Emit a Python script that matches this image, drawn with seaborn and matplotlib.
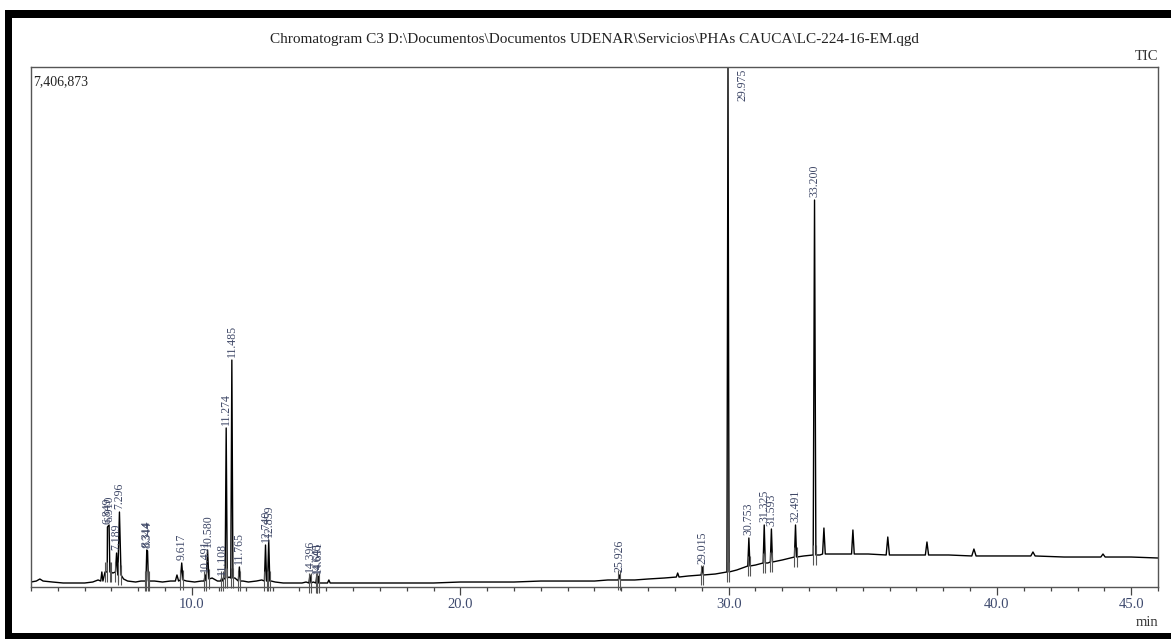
import matplotlib
matplotlib.use("Agg")
import matplotlib.pyplot as plt
from matplotlib.patches import Rectangle
from matplotlib.ticker import FixedLocator, MultipleLocator, FixedFormatter
import pandas as pd
import seaborn as sns

# ---------------- data ----------------
TITLE = "Chromatogram C3 D:\\Documentos\\Documentos UDENAR\\Servicios\\PHAs CAUCA\\LC-224-16-EM.qgd"
Y_MAX = 7406873
Y_MAX_LABEL = "7,406,873"
X_RANGE = (4.0, 46.0)
major_ticks = [10.0, 20.0, 30.0, 40.0, 45.0]
tick_labels = ["10.0", "20.0", "30.0", "40.0", "45.0"]

# peaks: retention time (min), apex signal, foot signal, half width (min), label
peak_time = [6.640, 6.849, 6.910, 7.189, 7.296, 8.314, 8.344, 9.440, 9.617,
             10.491, 10.580, 11.108, 11.274, 11.485, 11.765, 12.740, 12.859,
             14.396, 14.645, 14.691, 15.100, 25.926, 28.100, 29.015, 29.975,
             30.753, 31.325, 31.593, 32.491, 33.200, 33.550, 34.630, 35.930,
             37.390, 39.140, 41.340, 43.950]
peak_top = [214000, 855000, 883000, 484000, 1068000, 527000, 513000, 171000, 342000,
            171000, 527000, 128000, 2265000, 3233000, 285000, 598000, 669000,
            171000, 142000, 157000, 100000, 171000, 199000, 285000, 7406873,
            698000, 883000, 826000, 883000, 5512000, 840000, 812000, 712000,
            641000, 541000, 499000, 470000]
peak_base = [85000, 214000, 214000, 214000, 171000, 85000, 85000, 85000, 100000,
             85000, 114000, 85000, 128000, 128000, 85000, 85000, 85000,
             57000, 57000, 57000, 57000, 100000, 142000, 171000, 214000,
             299000, 342000, 356000, 427000, 456000, 470000, 470000, 456000,
             456000, 442000, 442000, 427000]
peak_halfwidth = [0.04, 0.09, 0.07, 0.04, 0.06, 0.06, 0.06, 0.06, 0.05,
                  0.04, 0.05, 0.04, 0.04, 0.04, 0.04, 0.04, 0.04,
                  0.04, 0.03, 0.03, 0.05, 0.04, 0.05, 0.04, 0.04,
                  0.04, 0.04, 0.04, 0.04, 0.05, 0.05, 0.05, 0.06,
                  0.06, 0.08, 0.08, 0.08]
peak_label = ["", "6.849", "6.910", "7.189", "7.296", "8.314", "8.344", "", "9.617",
              "10.491", "10.580", "11.108", "11.274", "11.485", "11.765", "12.740", "12.859",
              "14.396", "14.645", "14.691", "", "25.926", "", "29.015", "29.975",
              "30.753", "31.325", "31.593", "32.491", "33.200", "", "", "",
              "", "", "", ""]

# baseline between peaks: time (min), signal
baseline_time = [4.00, 4.20, 4.33, 4.45, 4.80, 5.20, 5.60, 6.00, 6.30, 6.50,
                 7.05, 7.45, 7.60, 7.90, 8.10, 8.60, 8.90, 9.20, 9.80, 10.10,
                 10.35, 10.75, 10.95, 11.19, 11.38, 11.60, 11.90, 12.10, 12.40, 12.60,
                 12.95, 13.10, 13.40, 13.80, 14.10, 14.25, 14.52, 14.80, 15.40, 16.00,
                 17.00, 18.00, 19.00, 20.00, 21.00, 22.00, 23.00, 24.00, 25.00, 25.50,
                 26.50, 27.00, 27.60, 28.50, 29.50, 30.30, 31.00, 31.46, 32.00, 32.80,
                 33.40, 34.00, 35.20, 36.60, 38.20, 40.00, 42.50, 45.00, 46.00]
baseline_signal = [71000, 85000, 114000, 85000, 71000, 57000, 57000, 57000, 71000, 100000,
                   199000, 114000, 85000, 71000, 85000, 85000, 71000, 85000, 85000, 71000,
                   85000, 128000, 85000, 114000, 142000, 128000, 85000, 71000, 85000, 100000,
                   85000, 71000, 57000, 57000, 57000, 71000, 71000, 57000, 57000, 57000,
                   57000, 57000, 57000, 71000, 71000, 71000, 85000, 85000, 85000, 100000,
                   100000, 114000, 128000, 157000, 185000, 242000, 313000, 342000, 385000, 442000,
                   456000, 470000, 470000, 456000, 456000, 442000, 427000, 427000, 413000]

# ---------------- build trace vertices from the read values ----------------
rows = [(t, s) for t, s in zip(baseline_time, baseline_signal)]
for t, top, base, hw in zip(peak_time, peak_top, peak_base, peak_halfwidth):
    rows += [(t - hw, base), (t, top), (t + hw, base)]
trace = pd.DataFrame(rows, columns=["time", "signal"]).sort_values("time")

# ---------------- figure ----------------
sns.set_theme(style="white")
plt.rcParams["font.family"] = ["Liberation Serif", "DejaVu Serif"]

W, H = 1171, 639
fig = plt.figure(figsize=(W / 100, H / 100), dpi=100)
fig.patch.set_facecolor("white")
ax = fig.add_axes([31 / W, 1 - 587 / H, (1158 - 31) / W, (587 - 67) / H])

sns.lineplot(data=trace, x="time", y="signal", ax=ax, sort=False, estimator=None,
             color="black", linewidth=1.0)

# integration marks at peak start/end of labelled peaks
MARK = 142000
for t, base, hw, lab in zip(peak_time, peak_base, peak_halfwidth, peak_label):
    if lab:
        ax.vlines([t - hw, t + hw], base - MARK, base + MARK, colors="#555555",
                  linewidth=0.8, clip_on=False)

# peak labels
label_color = "#3e4766"
for t, top, lab in zip(peak_time, peak_top, peak_label):
    if not lab:
        continue
    if top >= Y_MAX * 0.98:
        ax.annotate(lab, xy=(t, Y_MAX), xytext=(10.5, -1), textcoords="offset points",
                    rotation=90, ha="center", va="top", fontsize=8.5,
                    color=label_color, annotation_clip=False)
    else:
        ax.annotate(lab, xy=(t, top), xytext=(0, 2), textcoords="offset points",
                    rotation=90, ha="center", va="bottom", fontsize=8.5,
                    color=label_color, annotation_clip=False)

ax.set_xlim(*X_RANGE)
ax.set_ylim(0, Y_MAX)
ax.set_xlabel("")
ax.set_ylabel("")
ax.set_yticks([])
ax.xaxis.set_major_locator(FixedLocator(major_ticks))
ax.xaxis.set_major_formatter(FixedFormatter(tick_labels))
ax.xaxis.set_minor_locator(MultipleLocator(1.0))
ax.tick_params(axis="x", which="major", direction="out", length=5.5, width=0.9,
               color="#444444", labelsize=10.5, labelcolor="#3e4a6e", pad=2.5, bottom=True)
ax.tick_params(axis="x", which="minor", direction="out", length=3, width=0.9,
               color="#444444", bottom=True)
for sp in ax.spines.values():
    sp.set_visible(True)
    sp.set_color("#555555")
    sp.set_linewidth(1.0)

ax.text(0.0015, 0.985, Y_MAX_LABEL, transform=ax.transAxes, ha="left", va="top",
        fontsize=10, color="#222222")

fig.text(594 / W, 1 - 40 / H, TITLE, ha="center", va="center", fontsize=11, color="#222222")
fig.text(1158 / W, 1 - 57 / H, "TIC", ha="right", va="center", fontsize=10.5, color="#333333")
fig.text(1158 / W, 1 - 623 / H, "min", ha="right", va="center", fontsize=10.5, color="#333333")

# thick black frame (top, left, bottom)
for (x0, y0, x1, y1) in [(5, 10, W, 18), (5, 10, 12, H), (5, 633, W, H)]:
    fig.add_artist(Rectangle((x0 / W, 1 - y1 / H), (x1 - x0) / W, (y1 - y0) / H,
                             transform=fig.transFigure, facecolor="black",
                             edgecolor="none"))

fig.savefig("out.png", dpi=100)
